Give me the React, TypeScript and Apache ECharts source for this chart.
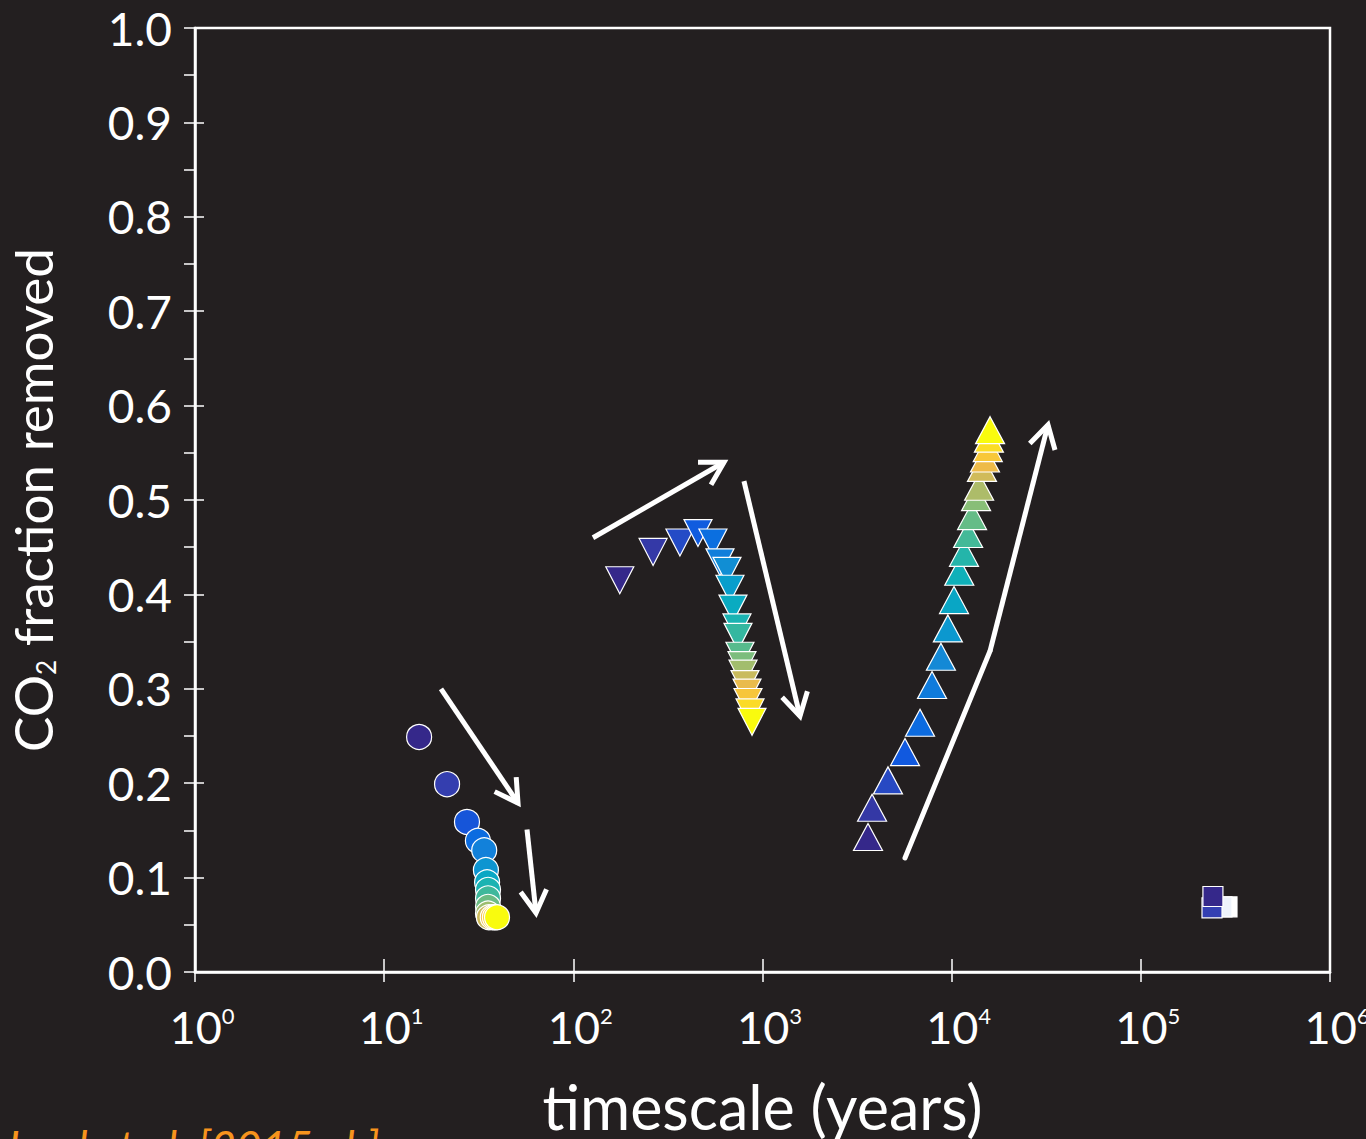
import React, { useEffect, useRef } from "react";
import * as echarts from "echarts";

// ---------- data ----------
const circleData: [number, number][] = [
  [15.3, 0.249], [21.5, 0.199], [27.4, 0.159], [31.3, 0.139], [33.8, 0.129],
  [34.5, 0.108], [35.0, 0.095], [35.4, 0.087], [35.4, 0.078], [35.4, 0.069],
  [35.4, 0.062], [35.8, 0.058], [37.5, 0.058], [38.5, 0.058], [39.5, 0.058],
];

const downTriData: [number, number][] = [
  [176, 0.415], [264, 0.445], [366, 0.455], [456, 0.465], [547, 0.455],
  [596, 0.434], [649, 0.425], [673, 0.406], [698, 0.385], [733, 0.365],
  [742, 0.355], [760, 0.335], [779, 0.325], [789, 0.316], [808, 0.305],
  [828, 0.296], [838, 0.286], [859, 0.275], [880, 0.265],
];

const upTriData: [number, number][] = [
  [3612, 0.143], [3795, 0.174], [4606, 0.203], [5666, 0.233], [6804, 0.264],
  [7874, 0.304], [8773, 0.334], [9550, 0.364], [10290, 0.394], [10970, 0.424],
  [11620, 0.444], [12220, 0.464], [12820, 0.483], [13460, 0.503], [13970, 0.514],
  [14460, 0.534], [15000, 0.544], [15520, 0.555], [15740, 0.565], [15960, 0.574],
];

const squareData: [number, number][] = [
  [285400, 0.069], [268500, 0.069], [237800, 0.068], [240500, 0.080],
];
const squareColors = ["#ffffff", "#eef3fb", "#3440b2", "#35288a"];

// arrows: [x0, y0, x1, y1, hasHead]
const arrowSegments: [number, number, number, number, number][] = [
  [19.97, 0.3, 51.0, 0.179, 1],
  [56.9, 0.151, 63.5, 0.0625, 1],
  [127, 0.46, 626, 0.54, 1],
  [798, 0.52, 1578, 0.271, 1],
  [5665, 0.1208, 15950, 0.34, 0],
  [15950, 0.34, 32300, 0.5795, 1],
];

const xTickLabelBase = "10";
const yAxisName = ["CO", "2", " fraction removed"];
const xAxisName = "timescale (years)";
const citation = "Lord et al. [2015a,b]";

// ---------- colormap (parula-like) ----------
const PARULA = [
  "#35288a", "#3440b2", "#1158df", "#0a72e0", "#1587d7", "#099dcd", "#0aafbd",
  "#29b6a6", "#5abb8c", "#8dbe75", "#c4bb60", "#f0bb48", "#fccf30", "#f9fb0e",
];
function hexToRgb(h: string) {
  const n = parseInt(h.slice(1), 16);
  return [(n >> 16) & 255, (n >> 8) & 255, n & 255];
}
function cmap(t: number) {
  const n = PARULA.length - 1;
  const p = Math.max(0, Math.min(1, t)) * n;
  const i = Math.min(n - 1, Math.floor(p));
  const f = p - i;
  const a = hexToRgb(PARULA[i]);
  const b = hexToRgb(PARULA[i + 1]);
  const c = a.map((v, k) => Math.round(v + (b[k] - v) * f));
  return `rgb(${c[0]},${c[1]},${c[2]})`;
}

const BG = "#231f20";
const FONT = "Lato";
const WHITE = "#ffffff";

export default function App() {
  const ref = useRef<HTMLDivElement>(null);

  useEffect(() => {
    if (!ref.current) return;
    const chart = echarts.init(ref.current, undefined, { renderer: "svg" });

    const xCommon = {
      type: "log",
      logBase: 10,
      min: 1,
      max: 1e6,
      position: "bottom",
      splitLine: { show: false },
      minorTick: { show: false },
      minorSplitLine: { show: false },
    };
    const yCommon = {
      type: "value",
      min: 0,
      max: 1,
      interval: 0.1,
      position: "left",
      splitLine: { show: false },
      minorSplitLine: { show: false },
    };

    const option: any = {
      animation: false,
      backgroundColor: BG,
      grid: {
        left: 195,
        right: 36,
        top: 28,
        bottom: 167,
        show: true,
        borderColor: WHITE,
        borderWidth: 2.5,
        backgroundColor: "transparent",
        containLabel: false,
        outerBoundsMode: "none",
      },
      xAxis: [
        {
          ...xCommon,
          axisLine: { show: true, lineStyle: { color: WHITE, width: 2.5 } },
          axisTick: { show: true, inside: false, length: 10, lineStyle: { color: WHITE, width: 1.5 } },
          axisLabel: {
            show: true,
            margin: 32,
            padding: [0, 0, 0, 14],
            formatter: (v: number) =>
              `{b|${xTickLabelBase}}{s|${Math.round(Math.log10(v))}}`,
            rich: {
              b: { fontSize: 45, color: WHITE, fontFamily: FONT },
              s: { fontSize: 22, color: WHITE, fontFamily: FONT, verticalAlign: "top" },
            },
          },
          name: xAxisName,
          nameLocation: "middle",
          nameGap: 104,
          nameTextStyle: { color: WHITE, fontSize: 61, fontFamily: FONT },
        },
        {
          ...xCommon,
          axisLine: { show: false },
          axisTick: { show: true, inside: true, length: 13, lineStyle: { color: WHITE, width: 1.5 } },
          axisLabel: { show: false },
        },
      ],
      yAxis: [
        {
          ...yCommon,
          axisLine: { show: true, lineStyle: { color: WHITE, width: 2.5 } },
          axisTick: { show: true, inside: false, length: 11, lineStyle: { color: WHITE, width: 1.5 } },
          minorTick: { show: true, splitNumber: 2, length: 11, lineStyle: { color: WHITE, width: 1.5 } },
          axisLabel: {
            show: true,
            margin: 23,
            color: WHITE,
            fontSize: 46,
            fontFamily: FONT,
            formatter: (v: number) => v.toFixed(1),
          },
          name: `{a|${yAxisName[0]}}{sub|${yAxisName[1]}}{a|${yAxisName[2]}}`,
          nameLocation: "middle",
          nameGap: 136,
          nameRotate: 90,
          nameTextStyle: {
            color: WHITE,
            fontFamily: FONT,
            fontSize: 53,
            rich: {
              a: { fontSize: 53, color: WHITE, fontFamily: FONT },
              sub: { fontSize: 26, color: WHITE, fontFamily: FONT, verticalAlign: "bottom" },
            },
          },
        },
        {
          ...yCommon,
          axisLine: { show: false },
          axisTick: { show: true, inside: true, length: 9, lineStyle: { color: WHITE, width: 1.5 } },
          minorTick: { show: false },
          axisLabel: { show: false },
        },
      ],
      series: [
        {
          type: "scatter",
          name: "circles",
          xAxisIndex: 0,
          yAxisIndex: 0,
          symbol: "circle",
          symbolSize: 25,
          data: circleData,
          itemStyle: {
            color: (p: any) => cmap(p.dataIndex / (circleData.length - 1)),
            borderColor: WHITE,
            borderWidth: 1.2,
            opacity: 1,
          },
          z: 3,
        },
        {
          type: "scatter",
          name: "down",
          symbol: "triangle",
          symbolRotate: 180,
          symbolSize: [28, 27],
          data: downTriData,
          itemStyle: {
            color: (p: any) => cmap(p.dataIndex / (downTriData.length - 1)),
            borderColor: WHITE,
            borderWidth: 1.2,
            opacity: 1,
          },
          z: 3,
        },
        {
          type: "scatter",
          name: "up",
          symbol: "triangle",
          symbolSize: [29, 27],
          data: upTriData,
          itemStyle: {
            color: (p: any) => cmap(p.dataIndex / (upTriData.length - 1)),
            borderColor: WHITE,
            borderWidth: 1.2,
            opacity: 1,
          },
          z: 3,
        },
        {
          type: "scatter",
          name: "squares",
          symbol: "rect",
          symbolSize: 20,
          data: squareData,
          itemStyle: {
            color: (p: any) => squareColors[p.dataIndex],
            borderColor: WHITE,
            borderWidth: 1.2,
            opacity: 1,
          },
          z: 3,
        },
        {
          type: "custom",
          name: "arrows",
          clip: false,
          data: arrowSegments,
          encode: { x: [0, 2], y: [1, 3] },
          z: 4,
          renderItem: (_params: any, api: any) => {
            const p0 = api.coord([api.value(0), api.value(1)]);
            const p1 = api.coord([api.value(2), api.value(3)]);
            const head = api.value(4);
            const children: any[] = [
              {
                type: "line",
                shape: { x1: p0[0], y1: p0[1], x2: p1[0], y2: p1[1] },
                style: { stroke: WHITE, lineWidth: 5, lineCap: head ? "butt" : "round" },
              },
            ];
            if (head) {
              const ang = Math.atan2(p1[1] - p0[1], p1[0] - p0[0]);
              const L = 26;
              const a = Math.PI / 6;
              const l = [p1[0] - L * Math.cos(ang - a), p1[1] - L * Math.sin(ang - a)];
              const r = [p1[0] - L * Math.cos(ang + a), p1[1] - L * Math.sin(ang + a)];
              children.push({
                type: "polyline",
                shape: { points: [l, [p1[0], p1[1]], r] },
                style: { stroke: WHITE, fill: null, lineWidth: 5, lineJoin: "miter" },
              });
            }
            return { type: "group", children };
          },
        },
      ],
      graphic: [
        {
          type: "text",
          left: 8,
          top: 1124,
          style: {
            text: citation,
            fill: "#f7941d",
            font: `italic 44px ${FONT}`,
          },
        },
      ],
    };

    chart.setOption(option);
    return () => chart.dispose();
  }, []);

  return (
    <div
      ref={ref}
      style={{ position: "fixed", left: 0, top: 0, width: 1366, height: 1139, background: BG }}
    />
  );
}
